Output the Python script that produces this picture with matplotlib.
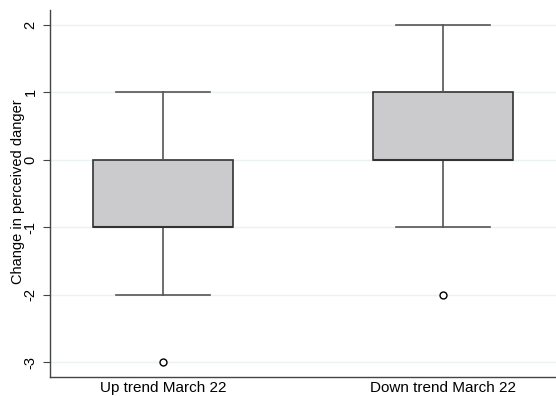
import matplotlib
matplotlib.use("Agg")
import matplotlib.pyplot as plt

plt.rcParams['font.family'] = ['Liberation Sans', 'DejaVu Sans']

groups = ['Up trend March 22', 'Down trend March 22']
q1 = [-1, 0]
median = [-1, 0]
q3 = [0, 1]
whis_low = [-2, -1]
whis_high = [1, 2]
outliers = [[-3], [-2]]

stats = []
for i in range(len(groups)):
    stats.append(dict(label=groups[i], q1=q1[i], med=median[i], q3=q3[i],
                      whislo=whis_low[i], whishi=whis_high[i], fliers=outliers[i]))

fig = plt.figure(figsize=(5.56, 3.96), dpi=100)
ax = fig.add_axes([0.09, 0.048, 0.91, 0.927])

ax.bxp(stats, positions=[1, 2], widths=0.5, patch_artist=True,
       boxprops=dict(facecolor='#cbcbcd', edgecolor='#333333', linewidth=1.2),
       medianprops=dict(color='#333333', linewidth=1.5),
       whiskerprops=dict(color='#555555', linewidth=1.2),
       capprops=dict(color='#555555', linewidth=1.2),
       capwidths=0.336,
       flierprops=dict(marker='o', markersize=5, markerfacecolor='white',
                       markeredgecolor='black', markeredgewidth=1.0),
       zorder=3)

ax.set_xlim(0.596, 2.404)
ax.set_ylim(-3.22, 2.22)
ax.set_yticks([-3, -2, -1, 0, 1, 2])
ax.set_yticklabels(['-3', '-2', '-1', '0', '1', '2'], rotation=90, va='center')
ax.yaxis.grid(True, color='#eaf2f3', linewidth=1.0, zorder=0)
ax.set_axisbelow(True)

for s in ['top', 'right']:
    ax.spines[s].set_visible(False)
for s in ['left', 'bottom']:
    ax.spines[s].set_color('#444444')
    ax.spines[s].set_linewidth(1.0)

ax.tick_params(axis='y', length=5, color='#444444', labelsize=10.5, pad=4)
ax.tick_params(axis='x', length=0, labelsize=11, pad=3)
ax.set_ylabel('Change in perceived danger', fontsize=10.5)
ax.yaxis.set_label_coords(-0.05, 0.505)

fig.savefig('out.png', dpi=100)
